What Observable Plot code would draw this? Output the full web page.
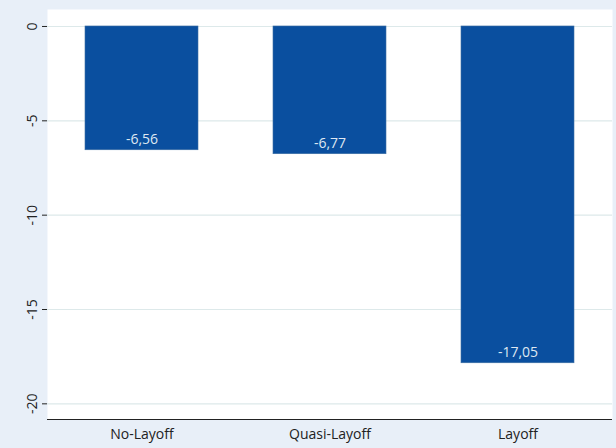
<!DOCTYPE html>
<html>
<head>
<meta charset="utf-8">
<script src="https://cdn.jsdelivr.net/npm/d3@7"></script>
<script src="https://cdn.jsdelivr.net/npm/@observablehq/plot@0.6"></script>
<style>
  html, body { margin: 0; padding: 0; background: #e8eff8; }
  #chart svg { display: block; }
</style>
</head>
<body>
<div id="chart"></div>
<script>
const categories = ["No-Layoff", "Quasi-Layoff", "Layoff"];
const values = [-6.56, -6.77, -17.85];
const valueLabels = ["-6,56", "-6,77", "-17,05"];
const yTicks = [0, -5, -10, -15, -20];

const data = categories.map((c, i) => ({cat: c, value: values[i], label: valueLabels[i]}));

const chart = Plot.plot({
  width: 616,
  height: 448,
  marginLeft: 47,
  marginRight: 4,
  marginTop: 9,
  marginBottom: 29,
  style: {background: "#e8eff8", fontFamily: "Open Sans, sans-serif", fontSize: "13px", color: "#222"},
  x: {domain: categories, paddingInner: 0.4, paddingOuter: 0.2, label: null},
  y: {domain: [-20.83, 0.9], label: null},
  marks: [
    Plot.frame({fill: "white", stroke: null}),
    Plot.gridY(yTicks, {stroke: "#dde9ea", strokeOpacity: 1, strokeWidth: 1.2}),
    Plot.barY(data, {x: "cat", y: "value", fill: "#0a4f9f", stroke: "#3d6ea3", strokeWidth: 0.6}),
    Plot.text(data, {x: "cat", y: "value", text: "label", dy: -11, fill: "#dfe8f2", fontSize: 14}),
    Plot.axisY(yTicks, {tickRotate: -90, tickSize: 5, tickPadding: 6, tickFormat: d => String(d), fontSize: 14, label: null, stroke: "#222"}),
    Plot.ruleX([0], {frameAnchor: "left", stroke: "#222"}),
    Plot.axisX({tickSize: 0, tickPadding: 10, fontSize: 14, label: null}),
    Plot.ruleY([-20.83], {stroke: "#222", strokeWidth: 1.2})
  ]
});
document.getElementById("chart").appendChild(chart);
</script>
</body>
</html>
